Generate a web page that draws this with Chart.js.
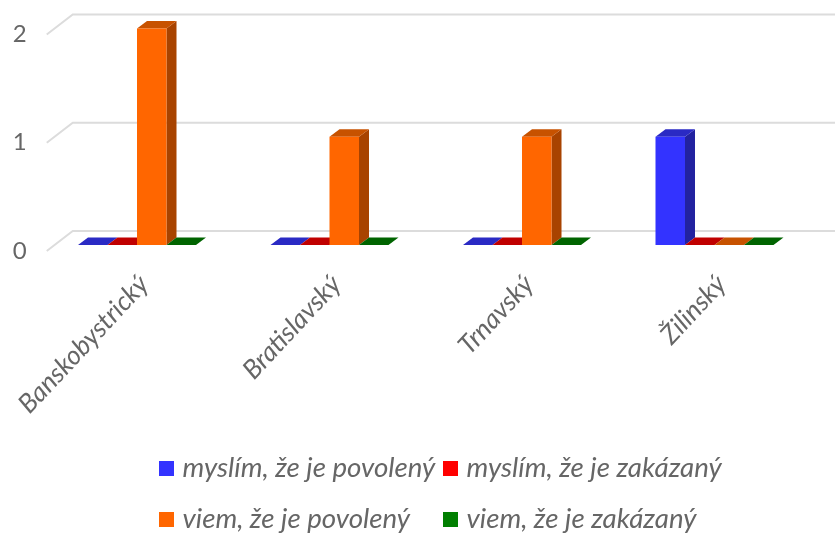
<!DOCTYPE html>
<html lang="sk">
<head>
<meta charset="utf-8">
<title>Graf</title>
<script src="https://cdn.jsdelivr.net/npm/chart.js@4"></script>
<style>
body { margin: 0; background: #fff; }
#obal { position: relative; width: 835px; height: 533px; overflow: hidden; }
#legenda { position: absolute; left: 0; top: 0; font: italic 27.7px Lato, sans-serif; color: #666; }
.polozka { position: absolute; white-space: nowrap; line-height: 30px; }
.polozka i { position: absolute; left: 0; top: 9px; width: 15px; height: 15px; }
.polozka span { position: absolute; left: 23.5px; top: 0; }
</style>
</head>
<body>
<div id="obal">
<canvas id="graf" width="835" height="533"></canvas>
<div id="legenda"></div>
</div>
<script>
const kraje = ["Banskobystrický", "Bratislavský", "Trnavský", "Žilinský"];
const nazvySerii = ["myslím, že je povolený", "myslím, že je zakázaný", "viem, že je povolený", "viem, že je zakázaný"];
const myslimPovoleny = [0, 0, 0, 1];
const myslimZakazany = [0, 0, 0, 0];
const viemPovoleny = [2, 1, 1, 0];
const viemZakazany = [0, 0, 0, 0];
const hodnoty = [myslimPovoleny, myslimZakazany, viemPovoleny, viemZakazany];

const farby = ["#3333ff", "#ff0000", "#ff6600", "#007f00"];
const farbyBok = ["#2222a0", "#a00000", "#a84300", "#005000"];
const farbyVrch = ["#2a2ac4", "#c00000", "#c75200", "#006400"];

// posun bariek od prednej hrany podlahy a hlbka 3D
const posunBar = -6;
const hlbkaX = 10;
const hlbkaY = -7.5;

function plocha(ctx, body, farba) {
    ctx.fillStyle = farba;
    ctx.beginPath();
    body.forEach((b, i) => i == 0 ? ctx.moveTo(b[0], b[1]) : ctx.lineTo(b[0], b[1]));
    ctx.closePath();
    ctx.fill();
}

const stenaPlugin = {
    id: "stena",
    beforeDatasetsDraw(chart) {
        const ctx = chart.ctx;
        const y = chart.scales.y;
        const left = chart.chartArea.left;

        // mriezka na zadnej stene + sikme ciary na boku
        ctx.save();
        ctx.strokeStyle = "#dcdcdc";
        ctx.lineWidth = 2;
        y.ticks.forEach(t => {
            let py = y.getPixelForValue(t.value);
            ctx.beginPath();
            ctx.moveTo(left + 6, py);
            ctx.lineTo(left + 32, py - 20);
            ctx.lineTo(835, py - 20);
            ctx.stroke();
        });
        ctx.restore();

        // bocne a horne steny stlpcov, predok kresli Chart.js
        ctx.save();
        ctx.translate(0, posunBar);
        chart.data.datasets.forEach((ds, i) => {
            chart.getDatasetMeta(i).data.forEach(bar => {
                let x0 = bar.x - bar.width / 2;
                let x1 = bar.x + bar.width / 2;
                if (bar.base - bar.y > 0) {
                    plocha(ctx, [[x1, bar.y], [x1 + hlbkaX, bar.y + hlbkaY], [x1 + hlbkaX, bar.base + hlbkaY], [x1, bar.base]], farbyBok[i]);
                }
                plocha(ctx, [[x0, bar.y], [x0 + hlbkaX, bar.y + hlbkaY], [x1 + hlbkaX, bar.y + hlbkaY], [x1, bar.y]], farbyVrch[i]);
            });
        });
        // posun nechavam aj pre predne steny
    },
    afterDatasetsDraw(chart) {
        chart.ctx.restore();
    }
};

const grafChart = new Chart(document.getElementById("graf"), {
    type: "bar",
    data: {
        labels: kraje,
        datasets: nazvySerii.map((nazov, i) => ({
            label: nazov,
            data: hodnoty[i],
            backgroundColor: farby[i],
            categoryPercentage: 0.613,
            barPercentage: 1,
            clip: false
        }))
    },
    options: {
        responsive: false,
        animation: false,
        layout: { padding: { left: 0, right: 24.25, top: 34.5, bottom: 0 } },
        plugins: { legend: { display: false }, tooltip: { enabled: false } },
        scales: {
            x: {
                afterFit: s => { s.height = 282; },
                grid: { display: false },
                border: { display: false },
                ticks: {
                    color: "#666",
                    font: { family: "Lato", size: 26.3, style: "italic" },
                    minRotation: 47,
                    maxRotation: 47,
                    labelOffset: 7,
                    padding: 10
                }
            },
            y: {
                min: 0,
                max: 2,
                afterFit: s => { s.width = 40.75; },
                grid: { display: false, drawTicks: false },
                border: { display: false },
                ticks: {
                    stepSize: 1,
                    color: "#666",
                    padding: 14,
                    font: { family: "Lato", size: 24 }
                }
            }
        }
    },
    plugins: [stenaPlugin]
});

// legenda v dvoch stlpcoch, Chart.js ju nevie zarovnat do mriezky
let legenda = document.getElementById("legenda");
let stlpce = [159, 443];
let riadky = [452, 503];
grafChart.data.datasets.forEach((ds, i) => {
    let polozka = document.createElement("div");
    polozka.className = "polozka";
    polozka.style.left = stlpce[i % 2] + "px";
    polozka.style.top = riadky[Math.floor(i / 2)] + "px";
    polozka.innerHTML = `<i style="background:${ds.backgroundColor}"></i><span>${ds.label}</span>`;
    legenda.appendChild(polozka);
});
</script>
</body>
</html>
